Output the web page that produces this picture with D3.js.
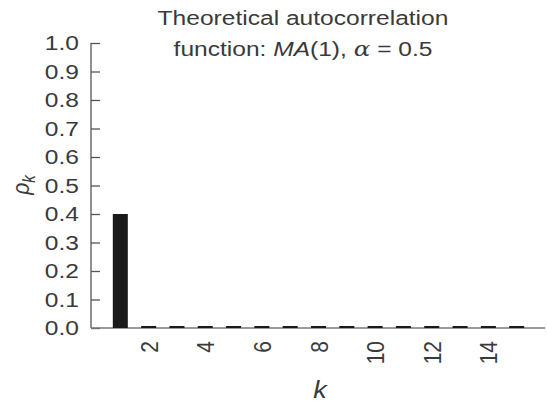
<!DOCTYPE html>
<html>
<head>
<meta charset="utf-8">
<script src="https://cdn.jsdelivr.net/npm/d3@7"></script>
<style>
  body { margin: 0; background: #fff; }
  text { font-family: "Liberation Sans", Arial, sans-serif; fill: #3a3a3a; }
</style>
</head>
<body>
<script>
const lags = [1,2,3,4,5,6,7,8,9,10,11,12,13,14,15];
const rho = [0.4,0,0,0,0,0,0,0,0,0,0,0,0,0,0];
const xTicks = [2,4,6,8,10,12,14];
const yTicks = [0,0.1,0.2,0.3,0.4,0.5,0.6,0.7,0.8,0.9,1.0];

const width = 547, height = 408;
const plotLeft = 91, plotTop = 43, plotBottom = 328, plotRight = 545;
const sx = 1.17; // the source picture is stretched sideways

const x = d3.scaleLinear().domain([0, 16]).range([plotLeft + 1, plotRight]);
const y = d3.scaleLinear().domain([0, 1]).range([plotBottom, plotTop]);

const svg = d3.select('body').append('svg')
    .attr('width', width).attr('height', height);

// title
const title = svg.append('text')
    .attr('transform', `translate(303,0) scale(${sx},1)`)
    .attr('text-anchor', 'middle')
    .style('font-size', '21px');
title.append('tspan').attr('x', 0).attr('y', 25).text('Theoretical autocorrelation');
const l2 = title.append('tspan').attr('x', 0).attr('y', 56);
l2.append('tspan').text('function: ');
l2.append('tspan').style('font-style', 'italic').text('MA');
l2.append('tspan').text('(1), ');
l2.append('tspan').style('font-style', 'italic').style('font-family', 'DejaVu Serif, serif').text('\u03b1');
l2.append('tspan').text(' = 0.5');

// y axis
const yAxis = svg.append('g')
    .attr('transform', `translate(${plotLeft},0)`)
    .call(d3.axisRight(y).tickValues(yTicks).tickSize(9).tickFormat(d3.format('.1f')));
yAxis.select('.domain').attr('stroke', '#555').attr('stroke-width', 1.3).attr('d', `M0,${plotTop}V${plotBottom}`);
yAxis.selectAll('.tick line').attr('stroke', '#555').attr('stroke-width', 1.3);
yAxis.selectAll('.tick text')
    .attr('transform', `scale(${sx},1)`)
    .attr('x', -12 / sx).attr('text-anchor', 'end')
    .style('font-size', '21px').attr('fill', '#3a3a3a');

// x axis
const xAxis = svg.append('g')
    .attr('transform', `translate(0,${plotBottom})`)
    .call(d3.axisBottom(x).tickValues(xTicks).tickSize(0));
xAxis.select('.domain').attr('stroke', '#777').attr('stroke-width', 1.3).attr('d', `M${plotLeft},0H${plotRight}`);
xAxis.selectAll('.tick text')
    .attr('transform', `scale(${sx},1) rotate(-90)`)
    .attr('x', -13).attr('y', 0).attr('dy', '0.35em')
    .attr('text-anchor', 'end')
    .style('font-size', '21px').attr('fill', '#3a3a3a');

// bars
const bw = 15;
svg.selectAll('rect.bar')
    .data(lags)
    .enter().append('rect')
    .attr('class', 'bar')
    .attr('x', (d) => x(d) - bw / 2)
    .attr('y', (d, i) => Math.min(y(rho[i]), plotBottom - 2))
    .attr('width', bw)
    .attr('height', (d, i) => Math.max(plotBottom - y(rho[i]), 2))
    .attr('fill', '#1a1a1a');

// axis labels
svg.append('text')
    .attr('transform', `translate(29,185) scale(${sx},1) rotate(-90)`)
    .attr('text-anchor', 'middle')
    .style('font-size', '21px').style('font-style', 'italic')
    .html('\u03c1<tspan dy="5" style="font-size:15px">k</tspan>');

svg.append('text')
    .attr('transform', `translate(320,398) scale(${sx},1)`)
    .attr('text-anchor', 'middle')
    .style('font-size', '23px').style('font-style', 'italic')
    .attr('fill', '#555')
    .text('k');
</script>
</body>
</html>
